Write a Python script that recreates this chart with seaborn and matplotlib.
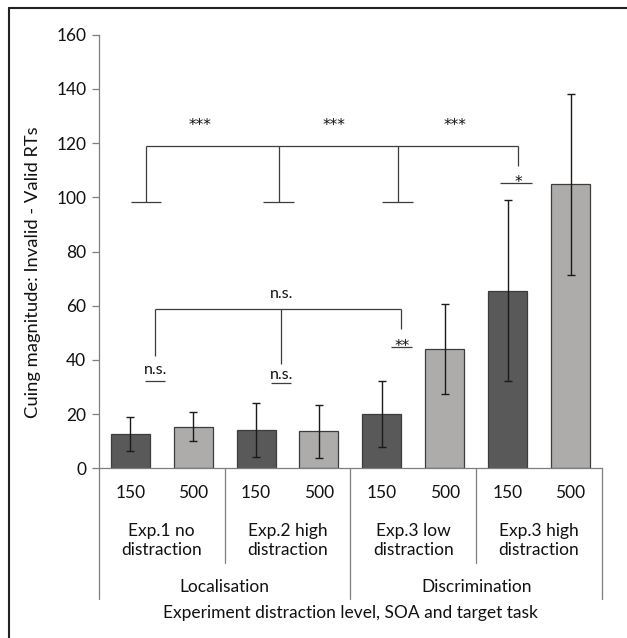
import matplotlib
matplotlib.use("Agg")
import matplotlib.pyplot as plt
import seaborn as sns
import pandas as pd
from matplotlib.lines import Line2D

# ---- data ----
conditions = ["E1_150", "E1_500", "E2_150", "E2_500", "E3L_150", "E3L_500", "E3H_150", "E3H_500"]
soa_labels = ["150", "500", "150", "500", "150", "500", "150", "500"]
cue_values = [12.7, 15.3, 14.2, 13.6, 20.0, 44.0, 65.6, 104.8]
cue_errors = [6.3, 5.3, 9.9, 9.9, 12.3, 16.5, 33.4, 33.5]
group_labels = ["Exp.1 no\ndistraction", "Exp.2 high\ndistraction",
                "Exp.3 low\ndistraction", "Exp.3 high\ndistraction"]
task_labels = ["Localisation", "Discrimination"]
y_ticks = [0, 20, 40, 60, 80, 100, 120, 140, 160]

df = pd.DataFrame({"cond": conditions, "soa": soa_labels, "value": cue_values})

sns.set_style("white")
plt.rcParams["font.family"] = ["Lato", "DejaVu Sans"]

fig = plt.figure(figsize=(6.27, 6.38), dpi=100)
ax = fig.add_axes([98.8 / 627, 1 - 468.3 / 638, (602 - 98.8) / 627, (468.3 - 34.7) / 638])

palette = {"150": "#595959", "500": "#AEAAAA"}
sns.barplot(data=df, x="cond", y="value", hue="soa", order=conditions, palette=palette,
            dodge=False, width=0.62, edgecolor="#3c3c3c", linewidth=0.9,
            errorbar=None, legend=False, ax=ax)
ax.errorbar(range(len(conditions)), cue_values, yerr=cue_errors, fmt="none",
            ecolor="#1a1a1a", elinewidth=1.0, capsize=3, capthick=1.0)

ax.set_xlim(-0.5, len(conditions) - 0.5)
ax.set_ylim(0, 160)
ax.set_yticks(y_ticks)
ax.tick_params(axis="y", length=5, width=0.9, color="#7f7f7f", labelsize=12.5,
               labelcolor="#111111", pad=4, left=True)
ax.set_xticks([])
ax.set_xlabel("")
ax.set_ylabel("Cuing magnitude: Invalid - Valid RTs", fontsize=13.2, color="#111111")
ax.yaxis.set_label_coords(-0.1155, 0.453)
for s in ["top", "right"]:
    ax.spines[s].set_visible(False)
for s in ["left", "bottom"]:
    ax.spines[s].set_color("#7f7f7f")
    ax.spines[s].set_linewidth(0.9)

tc = "#111111"
trans = ax.get_xaxis_transform()
# row 1: SOA labels
for i, lab in enumerate(soa_labels):
    ax.text(i, -0.0563, lab, transform=trans, ha="center", va="center", fontsize=12.5, color=tc)
# row 2: group labels
for g, lab in enumerate(group_labels):
    ax.text(2 * g + 0.5, -0.167, lab, transform=trans, ha="center", va="center",
            fontsize=12.5, color=tc, linespacing=1.25)
# row 3: task labels
for t, lab in enumerate(task_labels):
    ax.text(4 * t + 1.5, -0.273, lab, transform=trans, ha="center", va="center",
            fontsize=12.5, color=tc)
ax.text(3.5, -0.333, "Experiment distraction level, SOA and target task", transform=trans,
        ha="center", va="center", fontsize=12.5, color=tc)

# separators
sep_col = "#7f7f7f"
for xb, yb in [(-0.5, -0.301), (1.5, -0.219), (3.5, -0.301), (5.5, -0.219), (7.5, -0.301)]:
    ax.add_line(Line2D([xb, xb], [0, yb], transform=trans, color=sep_col, lw=0.9, clip_on=False))

# significance annotations
lc = "#3c3c3c"
def seg(x, y):
    ax.plot(x, y, color=lc, lw=0.9, clip_on=False, solid_capstyle="butt")

star_font = dict(family="DejaVu Sans", fontsize=11, color=tc, ha="center", va="baseline")

# top bracket
seg([0.25, 6.16], [118.9, 118.9])
for xv in [0.25, 2.36, 4.25]:
    seg([xv, xv], [118.9, 98.4])
for a, b in [(0.01, 0.49), (2.11, 2.60), (4.0, 4.50)]:
    seg([a, b], [98.4, 98.4])
seg([6.16, 6.16], [118.9, 111.5])
for xv in [1.11, 3.24, 5.16]:
    ax.text(xv, 124.9, "***", **star_font)
seg([5.88, 6.39], [105.3, 105.3])
ax.text(6.17, 103.9, "*", **star_font)

# n.s. bracket
seg([0.40, 4.31], [58.7, 58.7])
seg([0.40, 0.40], [58.7, 41.5])
seg([2.40, 2.40], [58.7, 38.5])
seg([4.31, 4.31], [58.7, 51.4])
ax.text(2.40, 64.5, "n.s.", ha="center", va="center", fontsize=11.5, color=tc)
ax.text(0.40, 36.3, "n.s.", ha="center", va="center", fontsize=11.5, color=tc)
seg([0.23, 0.56], [32.2, 32.2])
ax.text(2.40, 34.4, "n.s.", ha="center", va="center", fontsize=11.5, color=tc)
seg([2.23, 2.56], [31.4, 31.4])
ax.text(4.33, 43.4, "**", **star_font)
seg([4.14, 4.48], [44.6, 44.6])

# figure frame (left and top edges)
fig.add_artist(Line2D([9 / 627, 9 / 627], [0, 1 - 8 / 638], transform=fig.transFigure, color="#222222", lw=1.5))
fig.add_artist(Line2D([9 / 627, 1], [1 - 8 / 638, 1 - 8 / 638], transform=fig.transFigure, color="#222222", lw=1.5))

fig.savefig("out.png", dpi=100)
